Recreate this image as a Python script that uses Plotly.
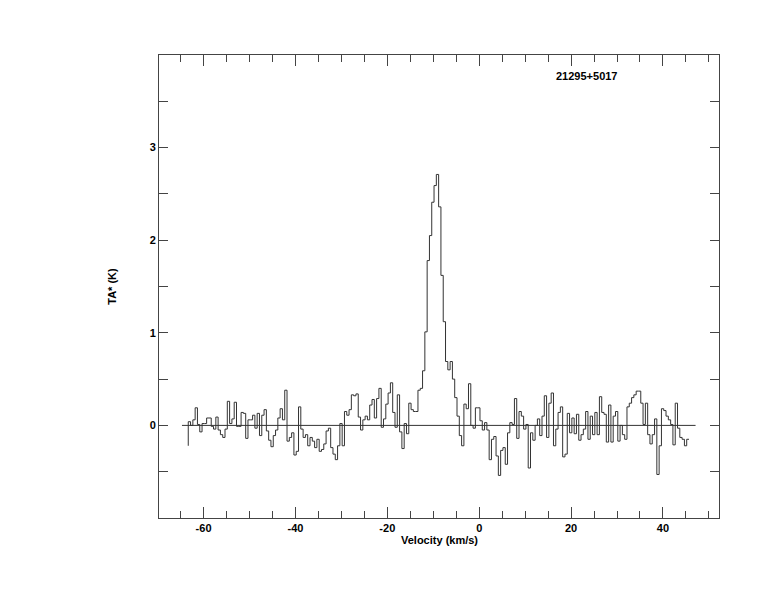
import numpy as np
import plotly.graph_objects as go

# Spectrum: channel left edge of first channel, channel width (km/s)
v_start = -63.33
dv = 0.5
ta_first = -0.22  # value where the histogram line starts
ta = [
    0.04, 0.00, 0.06, 0.19, 0.01, -0.07, 0.02, 0.02, 0.08, 0.08,
    -0.01, -0.04, 0.09, -0.05, -0.10, -0.13, -0.04, 0.26, 0.02, 0.07,
    0.25, -0.01, -0.01, 0.14, 0.13, -0.14, 0.06, 0.06, 0.11, -0.03,
    0.13, -0.11, 0.11, 0.17, -0.06, -0.16, -0.23, -0.11, -0.05, 0.08,
    0.18, 0.06, 0.38, -0.17, -0.13, -0.08, -0.32, -0.28, 0.20, -0.04,
    -0.13, -0.10, -0.22, -0.13, -0.17, -0.24, -0.15, -0.28, -0.26, -0.20,
    -0.06, -0.03, -0.24, -0.31, -0.37, -0.22, 0.02, -0.22, 0.15, 0.11,
    0.17, 0.33, 0.32, 0.34, 0.09, -0.05, 0.06, 0.10, 0.06, 0.22,
    0.28, 0.08, 0.29, 0.40, -0.02, 0.07, 0.23, 0.35, 0.46, 0.14,
    -0.02, 0.33, -0.07, -0.25, 0.02, -0.09, 0.24, 0.17, 0.15, 0.15,
    0.38, 0.40, 0.59, 1.01, 1.78, 2.05, 2.41, 2.59, 2.71, 2.36,
    1.62, 1.12, 0.69, 0.60, 0.69, 0.50, 0.30, 0.10, -0.11, -0.22,
    0.23, 0.18, 0.45, 0.00, -0.03, 0.19, 0.19, 0.05, -0.05, 0.03,
    -0.05, -0.37, -0.15, -0.12, -0.33, -0.54, -0.27, -0.24, -0.42, -0.08,
    0.03, 0.01, 0.29, -0.14, 0.15, 0.10, -0.04, 0.01, -0.46, -0.08,
    -0.16, 0.00, 0.07, -0.11, 0.10, 0.32, -0.13, 0.24, 0.35, -0.22,
    -0.04, 0.14, 0.20, -0.34, -0.31, 0.13, -0.08, 0.08, -0.09, 0.12,
    -0.16, -0.10, -0.04, 0.15, -0.15, 0.10, -0.10, 0.14, -0.10, 0.31,
    0.14, 0.12, -0.18, 0.22, -0.18, 0.10, 0.15, -0.17, 0.00, -0.10,
    -0.15, 0.20, 0.24, 0.30, 0.33, 0.37, 0.37, 0.24, 0.01, 0.24,
    -0.10, -0.20, -0.10, 0.07, -0.53, -0.22, 0.18, 0.16, 0.10, 0.06,
    0.01, -0.21, 0.24, -0.03, -0.13, -0.15, -0.22, -0.15,
]
baseline_v = [-64.7, 47.1]
baseline_t = [0.0, 0.0]

x_ticks = [-60, -40, -20, 0, 20, 40]
y_ticks = [0, 1, 2, 3]
source_name = "21295+5017"
x_title = "Velocity (km/s)"
y_title = "TA* (K)"

edges = v_start + dv * np.arange(len(ta) + 1)
xs = np.concatenate([[edges[0]], edges])
ys = np.concatenate([[ta_first], ta, [ta[-1]]])

line_col = "#333333"
axis_col = "#444444"
bold = dict(family="Liberation Sans", size=11, color="black", weight="bold")

fig = go.Figure()
fig.add_trace(go.Scatter(x=baseline_v, y=baseline_t, mode="lines",
                         line=dict(color=line_col, width=1), hoverinfo="skip"))
fig.add_trace(go.Scatter(x=xs, y=ys, mode="lines",
                         line=dict(shape="hv", color=line_col, width=1)))

fig.update_layout(
    width=774, height=612,
    margin=dict(l=151, r=63, t=47, b=102),
    plot_bgcolor="white", paper_bgcolor="white",
    showlegend=False,
    font=bold,
)
fig.update_xaxes(
    range=[-69.7, 52.2], showgrid=False, zeroline=False,
    showline=True, linecolor=axis_col, linewidth=1, mirror="ticks",
    ticks="inside", ticklen=11, tickcolor=axis_col, tickwidth=1,
    tickvals=x_ticks, ticktext=[str(v) for v in x_ticks], tickfont=bold,
    minor=dict(dtick=5, tick0=0, ticks="inside", ticklen=7, tickcolor=axis_col, tickwidth=1),
)
fig.update_yaxes(
    range=[-1, 4], showgrid=False, zeroline=False,
    showline=True, linecolor=axis_col, linewidth=1, mirror="ticks",
    ticks="inside", ticklen=9, tickcolor=axis_col, tickwidth=1,
    tickvals=y_ticks, ticktext=[str(v) for v in y_ticks], tickfont=bold,
    minor=dict(dtick=0.5, tick0=0, ticks="inside", ticklen=9, tickcolor=axis_col, tickwidth=1),
    title=dict(text=y_title, font=bold, standoff=30),
)
fig.add_annotation(text=x_title, xref="paper", yref="paper",
                   x=0.5, y=-0.047, xanchor="center", yanchor="middle",
                   showarrow=False, font=bold)
fig.add_annotation(text=source_name, xref="paper", yref="paper",
                   x=0.7625, y=0.955, xanchor="center", yanchor="middle",
                   showarrow=False, font=bold)

fig.write_html("out.html")
